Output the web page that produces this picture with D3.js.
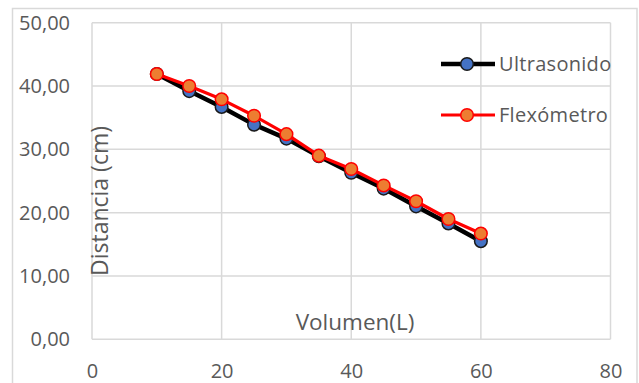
<!DOCTYPE html>
<html>
<head>
<meta charset="utf-8">
<script src="https://cdn.jsdelivr.net/npm/d3@7"></script>
<style>
  html, body { margin: 0; padding: 0; background: #fff; }
  svg { display: block; font-family: "Open Sans", "Noto Sans", sans-serif; }
</style>
</head>
<body>
<svg id="chart" width="639" height="383"></svg>
<script>
// Volume (L) at each reading
const volumes = [10, 15, 20, 25, 30, 35, 40, 45, 50, 55, 60];
// Distance (cm) measured by each method
const ultrasonido = [41.9, 39.2, 36.7, 33.9, 31.7, 28.9, 26.3, 23.8, 21.0, 18.3, 15.5];
const flexometro  = [41.9, 40.0, 37.9, 35.3, 32.4, 29.0, 26.9, 24.3, 21.8, 19.0, 16.7];
const seriesNames = ["Ultrasonido", "Flexómetro"];
const xTicks = [0, 20, 40, 60, 80];
const yTicks = [0, 10, 20, 30, 40, 50];

const svg = d3.select("#chart");
const textColor = "#595959";
const gridColor = "#d9d9d9";

// Chart frame
svg.append("rect")
  .attr("x", 12.5).attr("y", 8.5)
  .attr("width", 624.5).attr("height", 390)
  .attr("fill", "#fff")
  .attr("stroke", gridColor).attr("stroke-width", 1.5);

const x = d3.scaleLinear().domain([0, 80]).range([92, 610.5]);
const y = d3.scaleLinear().domain([0, 50]).range([339.3, 22.7]);

// Gridlines
svg.append("g").selectAll("line.v").data(xTicks).join("line")
  .attr("x1", d => x(d)).attr("x2", d => x(d))
  .attr("y1", y(0)).attr("y2", y(50))
  .attr("stroke", gridColor).attr("stroke-width", 1.5);
svg.append("g").selectAll("line.h").data(yTicks).join("line")
  .attr("x1", x(0)).attr("x2", x(80))
  .attr("y1", d => y(d)).attr("y2", d => y(d))
  .attr("stroke", gridColor).attr("stroke-width", 1.5);

// Axes (labels only; Excel-style, no domain or tick marks)
const fmtY = d => d3.format(".2f")(d).replace(".", ",");
const yAxis = svg.append("g")
  .attr("transform", `translate(${x(0)},0)`)
  .call(d3.axisLeft(y).tickValues(yTicks).tickFormat(fmtY).tickSize(0).tickPadding(22));
const xAxis = svg.append("g")
  .attr("transform", `translate(0,${y(0)})`)
  .call(d3.axisBottom(x).tickValues(xTicks).tickSize(0).tickPadding(25));
[yAxis, xAxis].forEach(a => {
  a.select(".domain").remove();
  a.selectAll("text")
    .attr("fill", textColor)
    .style("font-size", "20px")
    .style("font-family", "'Open Sans', sans-serif");
});

// Axis titles
svg.append("text")
  .attr("x", 355).attr("y", 330)
  .attr("text-anchor", "middle")
  .attr("fill", textColor)
  .style("font-size", "22.5px")
  .text("Volumen(L)");
svg.append("text")
  .attr("transform", `translate(108,276) rotate(-90)`)
  .attr("text-anchor", "start")
  .attr("fill", textColor)
  .style("font-size", "23px")
  .text("Distancia (cm)");

// Series
const series = [
  { name: seriesNames[0], values: ultrasonido, line: "#000000", lw: 4.5, fill: "#4472c4", stroke: "#1a1a1a" },
  { name: seriesNames[1], values: flexometro, line: "#ff0000", lw: 3.2, fill: "#ed7d31", stroke: "#ff0000" }
];

const lineGen = d3.line().x(d => x(d[0])).y(d => y(d[1]));

series.forEach(s => {
  const pts = volumes.map((v, i) => [v, s.values[i]]);
  const g = svg.append("g");
  g.append("path")
    .datum(pts)
    .attr("d", lineGen)
    .attr("fill", "none")
    .attr("stroke", s.line)
    .attr("stroke-width", s.lw)
    .attr("stroke-linejoin", "round");
  g.selectAll("circle").data(pts).join("circle")
    .attr("cx", d => x(d[0])).attr("cy", d => y(d[1]))
    .attr("r", 6.3)
    .attr("fill", s.fill)
    .attr("stroke", s.stroke)
    .attr("stroke-width", 1.5);
});

// Legend
const legend = svg.append("g");
const legendY = [64, 115];
series.forEach((s, i) => {
  const ly = legendY[i];
  legend.append("line")
    .attr("x1", 441).attr("x2", 495)
    .attr("y1", ly).attr("y2", ly)
    .attr("stroke", s.line).attr("stroke-width", s.lw);
  legend.append("circle")
    .attr("cx", 467).attr("cy", ly).attr("r", 6.3)
    .attr("fill", s.fill).attr("stroke", s.stroke).attr("stroke-width", 1.5);
  legend.append("text")
    .attr("x", 499).attr("y", ly).attr("dy", "0.35em")
    .attr("fill", textColor)
    .style("font-size", "20px")
    .style("letter-spacing", "0.3px")
    .text(s.name);
});
</script>
</body>
</html>
